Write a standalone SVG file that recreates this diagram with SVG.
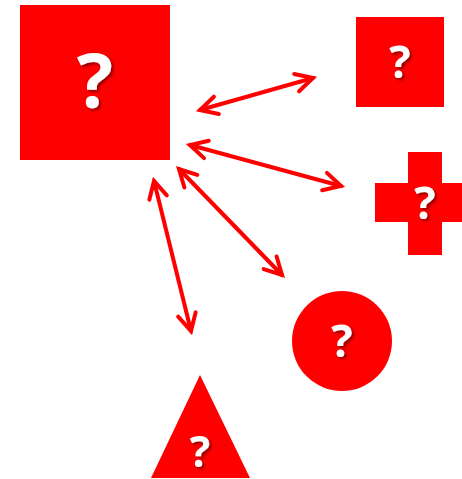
<svg xmlns="http://www.w3.org/2000/svg" width="462" height="479" viewBox="0 0 462 479">
<style>
.shape{fill:#ff0000;}
.q{fill:#ffffff;font-family:"Open Sans","DejaVu Sans",sans-serif;font-weight:bold;text-anchor:middle;filter:url(#sh);}
.conn{stroke:#ff0000;stroke-width:4;fill:none;stroke-linecap:round;marker-start:url(#ah);marker-end:url(#ah);}
</style>
<defs>
<filter id="sh" x="-30%" y="-30%" width="160%" height="160%">
<feDropShadow dx="2" dy="2" stdDeviation="1.5" flood-color="#000" flood-opacity="0.45"/>
</filter>
<marker id="ah" viewBox="-22 -12 26 24" markerWidth="26" markerHeight="24" refX="0" refY="0" orient="auto-start-reverse" markerUnits="userSpaceOnUse">
<path d="M-17,-9 L0,0 L-17,9" fill="none" stroke="#ff0000" stroke-width="4" stroke-linecap="round" stroke-linejoin="miter"/>
</marker>
</defs>
<g id="connectors">
<line class="conn" x1="200" y1="110" x2="313" y2="78"/>
<line class="conn" x1="190" y1="145" x2="341" y2="186"/>
<line class="conn" x1="179" y1="169" x2="282" y2="275"/>
<line class="conn" x1="154" y1="181" x2="191" y2="331"/>
</g>
<g id="big-square">
<rect class="shape" x="20" y="5" width="150" height="155"/>
<text class="q" x="95" y="108" font-size="76">?</text>
</g>
<g id="small-square">
<rect class="shape" x="356" y="17" width="88" height="90"/>
<text class="q" x="400" y="78" font-size="45">?</text>
</g>
<g id="cross">
<path class="shape" d="M408,152 H442 V183 H462 V222 H442 V255 H408 V222 H375 V183 H408 Z"/>
<text class="q" x="425" y="219" font-size="45">?</text>
</g>
<g id="circle">
<circle class="shape" cx="342" cy="341" r="50"/>
<text class="q" x="342" y="357" font-size="45">?</text>
</g>
<g id="triangle">
<polygon class="shape" points="200,375 250,478 151,478"/>
<text class="q" x="200" y="467" font-size="43">?</text>
</g>
</svg>
